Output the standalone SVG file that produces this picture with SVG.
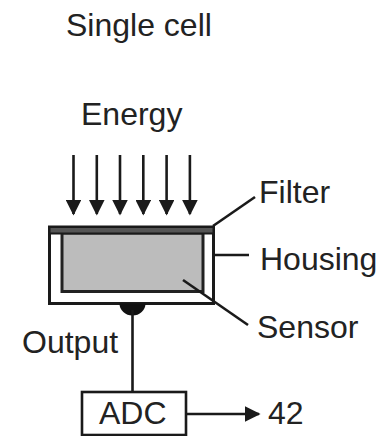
<svg xmlns="http://www.w3.org/2000/svg" width="382" height="436" viewBox="0 0 382 436">
<style>
text{font-family:"Liberation Sans",Arial,sans-serif;font-size:32px;fill:#222}
.ln{stroke:#1a1a1a;stroke-width:2.6;fill:none}
</style>
<defs>
<marker id="ah" viewBox="0 0 10 10" refX="9" refY="5" markerWidth="6" markerHeight="6" orient="auto" markerUnits="strokeWidth">
<path d="M0,0 L10,5 L0,10 Z" fill="#1a1a1a"/>
</marker>
</defs>
<rect width="382" height="436" fill="#fff"/>
<text id="title" x="66" y="36">Single cell</text>
<g id="energy">
<text x="81" y="125">Energy</text>
</g>
<g id="housing">
<rect x="49.5" y="227" width="164" height="76.5" fill="#fff" stroke="#1a1a1a" stroke-width="3"/>
</g>
<g id="sensor">
<rect x="62" y="233" width="141" height="58.5" fill="#bcbcbc" stroke="#222" stroke-width="3"/>
</g>
<g id="filter">
<rect x="49.5" y="227" width="164" height="6.5" fill="#555" stroke="#1a1a1a" stroke-width="2"/>
</g>
<g id="output-contact">
<path d="M119.5,303.5 A13,12 0 0 0 145.5,303.5 Z" fill="#111"/>
</g>
<g id="adc">
<rect x="82" y="392" width="104" height="43" fill="#fff" stroke="#1a1a1a" stroke-width="2.6"/>
<text x="99" y="424">ADC</text>
</g>
<g id="labels">
<text x="259" y="203">Filter</text>
<text x="260" y="270">Housing</text>
<text x="257" y="338">Sensor</text>
<text x="22" y="353">Output</text>
<text x="268" y="424">42</text>
</g>
<g id="connectors">
<g class="ln" marker-end="url(#ah)">
<line x1="73.5" y1="155" x2="73.5" y2="214"/>
<line x1="96.8" y1="155" x2="96.8" y2="214"/>
<line x1="120" y1="155" x2="120" y2="214"/>
<line x1="143.3" y1="155" x2="143.3" y2="214"/>
<line x1="166.6" y1="155" x2="166.6" y2="214"/>
<line x1="189.9" y1="155" x2="189.9" y2="214"/>
<line x1="187" y1="414" x2="259" y2="414"/>
</g>
<line class="ln" x1="213" y1="226" x2="255" y2="197"/>
<line class="ln" x1="215" y1="255" x2="249" y2="255"/>
<line class="ln" x1="183" y1="280" x2="248" y2="325"/>
<line class="ln" x1="132.5" y1="310" x2="132.5" y2="392"/>
</g>
</svg>
